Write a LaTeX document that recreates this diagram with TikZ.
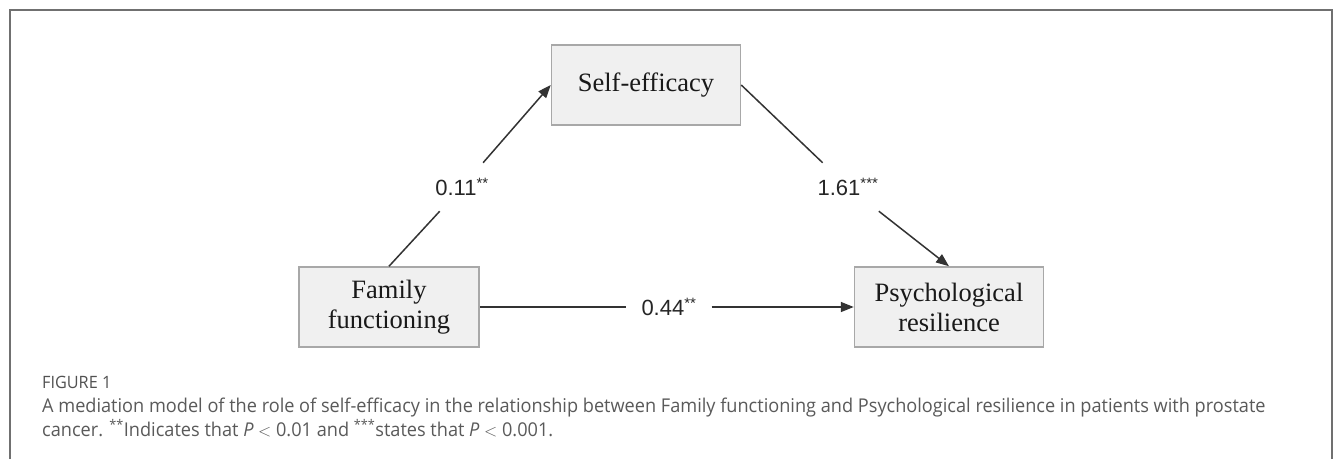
\documentclass[tikz,border=0pt]{standalone}
\usepackage{fontspec}
\setmainfont{Liberation Serif}
\newfontfamily\labfont{Liberation Sans}
\newfontfamily\capfont[FakeStretch=0.955]{Open Sans}
\usetikzlibrary{arrows.meta}
\definecolor{boxfill}{HTML}{F0F0F0}
\definecolor{boxline}{HTML}{A8A8A8}
\definecolor{arrowcol}{HTML}{333333}
\definecolor{capgray}{HTML}{5A5A5A}
\definecolor{framecol}{HTML}{707070}
\tikzset{
  varbox/.style={draw=boxline, fill=boxfill, line width=1.5pt, minimum height=80pt, align=center,
    font=\fontsize{26.5}{30}\selectfont, text=black!90, inner sep=0pt},
  coef/.style={font=\labfont\fontsize{22}{26}\selectfont, text=black!85, inner xsep=13pt, inner ysep=15pt},
  conn/.style={draw=arrowcol, line width=1.5pt},
  arr/.style={conn, -{Triangle[length=13pt,width=10pt]}},
  capt/.style={anchor=base west, inner sep=0pt, text=capgray, font=\capfont\fontsize{19}{24}\selectfont}
}
\newcommand{\stars}[1]{\textsuperscript{\fontsize{15}{15}\selectfont #1}}
\begin{document}
\begin{tikzpicture}[x=1pt, y=-1pt]
\useasboundingbox (0,0) rectangle (1335,459);
\fill[white] (0,0) rectangle (1335,459);
% frame
\draw[framecol, line width=2pt] (9.5,459) -- (9.5,10) -- (1331.5,10) -- (1331.5,459);
% boxes
\node[varbox, minimum width=189pt] (self) at (646,85) {Self-efficacy};
\node[varbox, minimum width=180pt] (fam) at (389,307) {Family\\functioning};
\node[varbox, minimum width=189pt] (psy) at (949,307) {Psychological\\resilience};
% coefficient labels
\node[coef] (l1) at (462,187) {0.11\stars{**}};
\node[coef] (l2) at (848,187) {1.61\stars{***}};
\node[coef, inner xsep=15pt] (l3) at (669,307) {0.44\stars{**}};
% connectors
\draw[conn] (fam.north) -- (l1);
\draw[arr] (l1) -- (self.west);
\draw[conn] (self.east) -- (l2);
\draw[arr] (l2) -- (psy.north);
\draw[conn] (fam.east) -- (l3);
\draw[arr] (l3) -- (psy.west);
% caption
\node[capt, font=\capfont\fontsize{17}{20}\selectfont, text=capgray!90!black] (fig) at (42,388) {FIGURE 1};
\node[capt] (cap1) at (42,412) {A mediation model of the role of self-efficacy in the relationship between Family functioning and Psychological resilience in patients with prostate};
\node[capt] (cap2) at (42,436) {cancer. \textsuperscript{**}Indicates that \textit{P} $<$ 0.01 and \textsuperscript{***}states that \textit{P} $<$ 0.001.};
\end{tikzpicture}
\end{document}
